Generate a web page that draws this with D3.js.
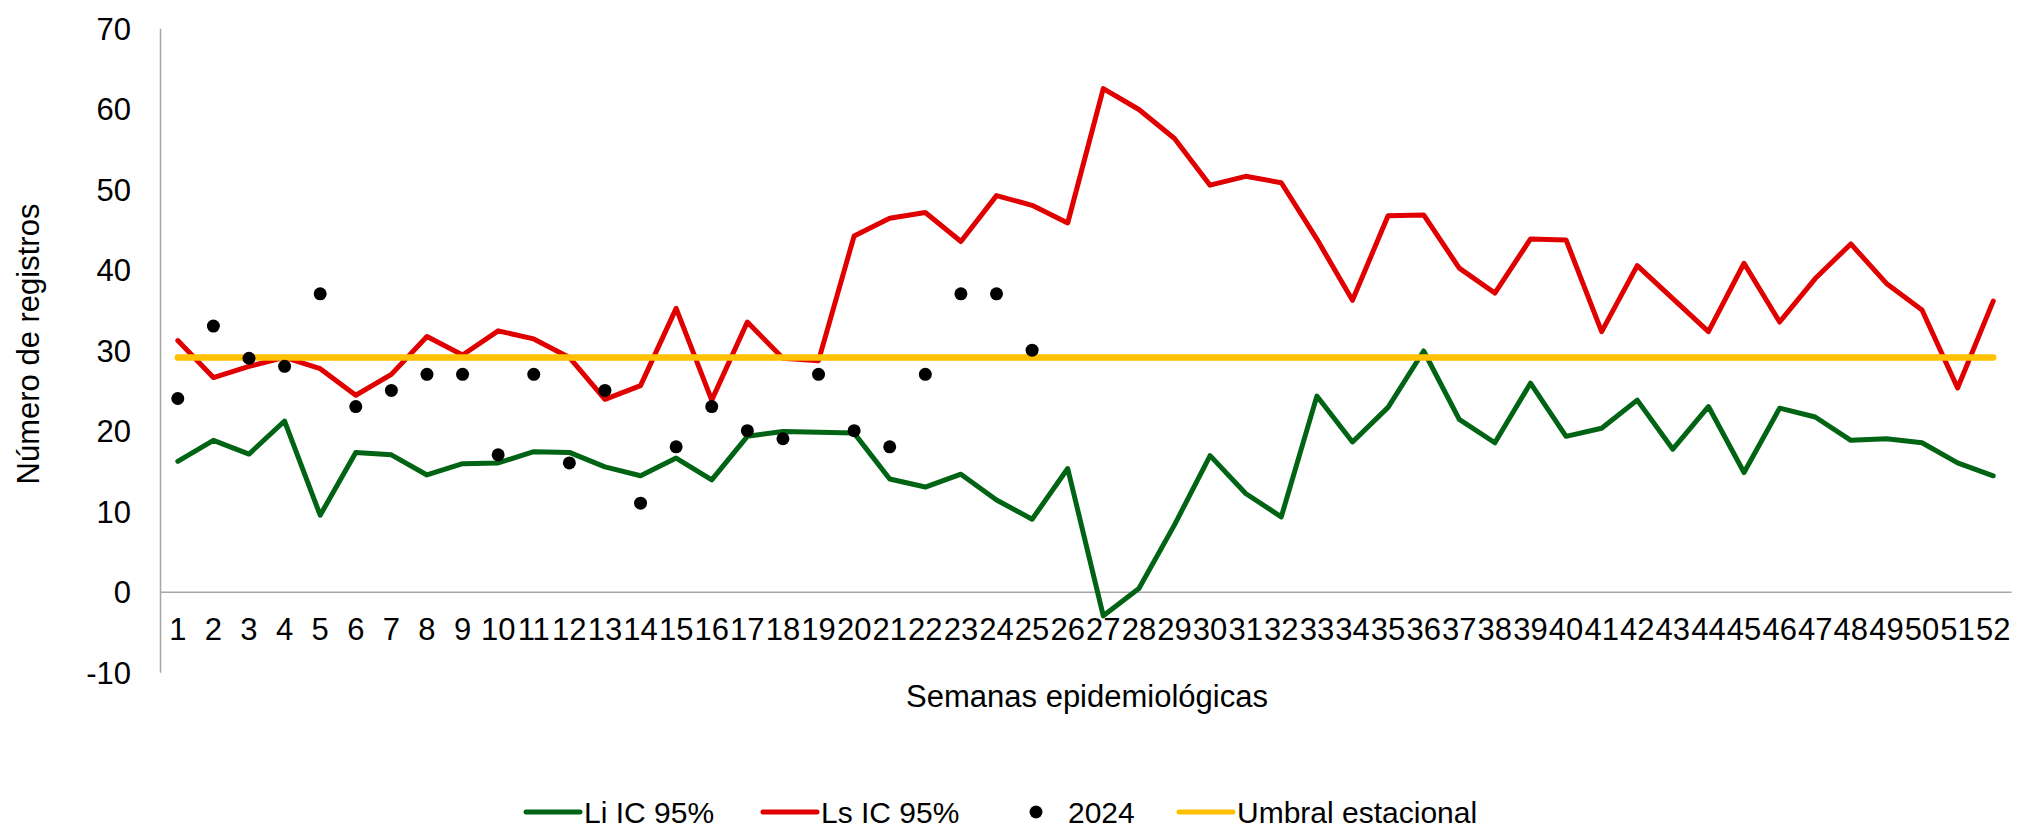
<!DOCTYPE html>
<html>
<head>
<meta charset="utf-8">
<script src="https://cdn.jsdelivr.net/npm/d3@7"></script>
<style>
  body { margin: 0; background: #fff; }
  svg text { font-family: "Liberation Sans", Arial, sans-serif; fill: #000; }
</style>
</head>
<body>
<div id="chart"></div>
<script>
// weeks 1..52
const semanas = d3.range(1, 53);

// lower limit IC 95%
const liIC = [16.2, 18.8, 17.1, 21.2, 9.5, 17.3, 17.0, 14.5, 15.9, 16.0,
  17.4, 17.3, 15.5, 14.4, 16.6, 13.9, 19.3, 19.9, 19.8, 19.7,
  14.0, 13.0, 14.6, 11.4, 9.0, 15.3, -3.0, 0.4, 8.3, 16.9,
  12.2, 9.3, 24.3, 18.6, 22.9, 29.9, 21.4, 18.5, 25.9, 19.3,
  20.3, 23.8, 17.7, 23.0, 14.8, 22.8, 21.7, 18.8, 19.0, 18.5,
  16.0, 14.4];

// upper limit IC 95%
const lsIC = [31.2, 26.6, 28.0, 29.1, 27.7, 24.4, 27.0, 31.7, 29.4, 32.4,
  31.4, 29.1, 23.9, 25.6, 35.2, 23.8, 33.5, 29.0, 28.7, 44.2,
  46.4, 47.1, 43.5, 49.2, 48.0, 45.8, 62.5, 59.9, 56.3, 50.5,
  51.6, 50.8, 43.8, 36.2, 46.7, 46.8, 40.2, 37.1, 43.8, 43.7,
  32.3, 40.5, 36.4, 32.3, 40.8, 33.5, 38.9, 43.2, 38.3, 35.0,
  25.3, 36.1];

// 2024 cases (weeks 1-25)
const casos2024 = [24, 33, 29, 28, 37, 23, 25, 27, 27, 17,
  27, 16, 25, 11, 18, 23, 20, 19, 27, 20,
  18, 27, 37, 37, 30];

const umbralEstacional = 29.1;

const yTicks = [-10, 0, 10, 20, 30, 40, 50, 60, 70];

const legendItems = [
  { name: "Li IC 95%", type: "line", color: "#006414" },
  { name: "Ls IC 95%", type: "line", color: "#E00000" },
  { name: "2024", type: "dot", color: "#000" },
  { name: "Umbral estacional", type: "line", color: "#FFC000" }
];

const svg_width = 2018;
const svg_height = 831;
const fontSize = 31;

let svg = d3.select("#chart")
  .append("svg")
  .attr("width", svg_width)
  .attr("height", svg_height);

// scales
let x = d3.scaleBand()
  .domain(semanas)
  .range([160, 2011])
  .padding(0);

let y = d3.scaleLinear()
  .domain([-10, 70])
  .range([672.2, 28.2]);

const cx = d => x(d) + x.bandwidth() / 2;

// y axis (plain hyphen for negatives, like the original)
let yAxis = svg.append("g")
  .attr("transform", "translate(160,0)")
  .call(d3.axisLeft(y).tickValues(yTicks).tickFormat(d => String(d)).tickSize(0).tickPadding(29));
yAxis.select(".domain").attr("stroke", "#A6A6A6").attr("stroke-width", 1.5);
yAxis.selectAll("text").attr("font-size", fontSize).attr("dy", "0.35em");

// x axis at zero
let xAxis = svg.append("g")
  .attr("transform", `translate(0,${y(0)})`)
  .call(d3.axisBottom(x).tickSize(0).tickPadding(26));
xAxis.select(".domain").attr("stroke", "#A6A6A6").attr("stroke-width", 1.5);
xAxis.selectAll("text").attr("font-size", fontSize);

// lines
let line = d3.line()
  .x((d, i) => cx(semanas[i]))
  .y(d => y(d));

svg.append("path")
  .datum(liIC)
  .attr("d", line)
  .attr("fill", "none")
  .attr("stroke", "#006414")
  .attr("stroke-width", 5)
  .attr("stroke-linejoin", "round")
  .attr("stroke-linecap", "round");

svg.append("path")
  .datum(lsIC)
  .attr("d", line)
  .attr("fill", "none")
  .attr("stroke", "#E00000")
  .attr("stroke-width", 5)
  .attr("stroke-linejoin", "round")
  .attr("stroke-linecap", "round");

// seasonal threshold
svg.append("line")
  .attr("x1", cx(semanas[0]))
  .attr("x2", cx(semanas[semanas.length - 1]))
  .attr("y1", y(umbralEstacional))
  .attr("y2", y(umbralEstacional))
  .attr("stroke", "#FFC000")
  .attr("stroke-width", 6.5)
  .attr("stroke-linecap", "round");

// 2024 dots
svg.selectAll("circle.caso")
  .data(casos2024)
  .enter()
  .append("circle")
  .attr("class", "caso")
  .attr("cx", (d, i) => cx(semanas[i]))
  .attr("cy", d => y(d))
  .attr("r", 6.5)
  .attr("fill", "#000");

// axis titles
svg.append("text")
  .attr("transform", "translate(39,344) rotate(-90)")
  .attr("text-anchor", "middle")
  .attr("font-size", fontSize)
  .text("Número de registros");

svg.append("text")
  .attr("x", 1087)
  .attr("y", 707)
  .attr("text-anchor", "middle")
  .attr("font-size", fontSize)
  .text("Semanas epidemiológicas");

// legend
const legendX = [526, 763, 1030, 1179];
const legendY = 812;
let legend = svg.selectAll("g.legend")
  .data(legendItems)
  .enter()
  .append("g")
  .attr("class", "legend")
  .attr("transform", (d, i) => `translate(${legendX[i]},${legendY})`);

legend.filter(d => d.type === "line")
  .append("line")
  .attr("x1", 0)
  .attr("x2", 54)
  .attr("stroke", d => d.color)
  .attr("stroke-width", 5)
  .attr("stroke-linecap", "round");

legend.filter(d => d.type === "dot")
  .append("circle")
  .attr("cx", 6)
  .attr("r", 6.5)
  .attr("fill", d => d.color);

legend.append("text")
  .attr("x", d => d.type === "dot" ? 38 : 58)
  .attr("dy", "0.35em")
  .attr("font-size", 30)
  .text(d => d.name);
</script>
</body>
</html>
